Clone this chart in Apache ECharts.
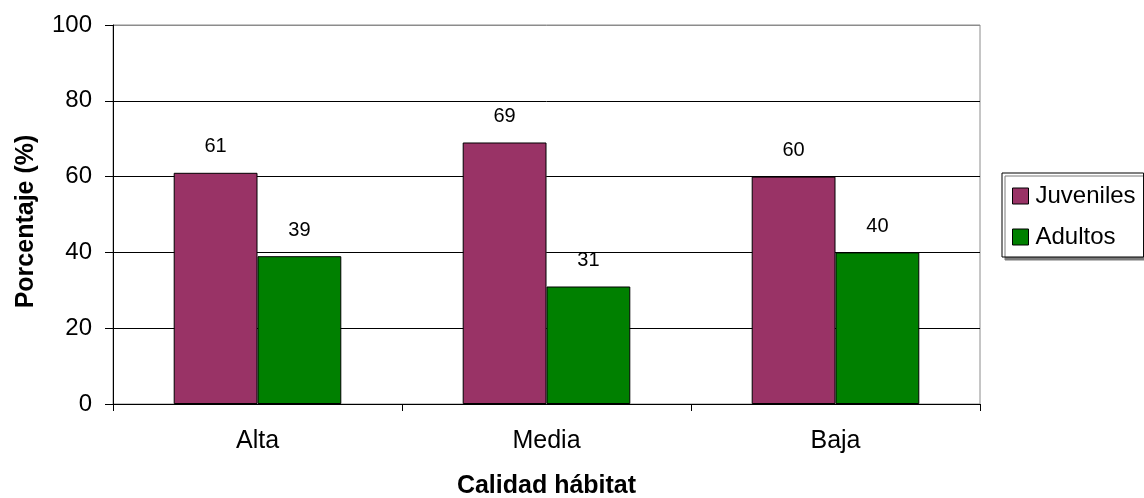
<!DOCTYPE html>
<html>
<head>
<meta charset="utf-8">
<script src="https://cdn.jsdelivr.net/npm/echarts@6/dist/echarts.min.js"></script>
<style>
html, body { margin: 0; padding: 0; background: #fff; }
#chart { width: 1144px; height: 498px; }
</style>
</head>
<body>
<div id="chart"></div>
<script>
// Habitat quality categories and age-class percentages
const categories = ['Alta', 'Media', 'Baja'];
const juveniles = [61, 69, 60];
const adultos = [39, 31, 40];
const yTicks = [0, 20, 40, 60, 80, 100];

const FONT = '"Liberation Sans", Arial, sans-serif';

const chart = echarts.init(document.getElementById('chart'), null, { renderer: 'canvas' });

const labelStyle = {
  show: true,
  position: 'top',
  distance: 16,
  color: '#000',
  fontSize: 20,
  fontFamily: FONT
};

chart.setOption({
  animation: false,
  backgroundColor: '#fff',
  grid: {
    left: 113, right: 164, top: 25, bottom: 94,
    show: true, borderColor: '#8c8c8c', borderWidth: 1,
    containLabel: false,
    outerBoundsMode: 'none'
  },
  legend: {
    orient: 'vertical',
    left: 1002, top: 173,
    padding: [11, 8, 8, 10],
    itemGap: 17,
    itemWidth: 16, itemHeight: 16,
    icon: 'rect',
    backgroundColor: '#fff',
    borderColor: '#000',
    borderWidth: 1,
    shadowColor: '#7a7a7a',
    shadowOffsetX: 3, shadowOffsetY: 3, shadowBlur: 0,
    textStyle: { fontSize: 24, color: '#000', fontFamily: FONT, padding: [0, 0, 0, 2] },
    itemStyle: { borderColor: '#000', borderWidth: 1 },
    data: ['Juveniles', 'Adultos']
  },
  xAxis: {
    type: 'category',
    data: categories,
    name: 'Calidad hábitat',
    nameLocation: 'middle',
    nameGap: 70,
    nameTextStyle: { fontSize: 25, fontWeight: 'bold', color: '#000', fontFamily: FONT },
    axisLine: { lineStyle: { color: '#000', width: 1 } },
    axisTick: { show: true, interval: 0, length: 7, lineStyle: { color: '#000' } },
    axisLabel: { fontSize: 25, color: '#000', fontFamily: FONT, margin: 25 },
    splitLine: { show: false }
  },
  yAxis: {
    type: 'value',
    min: yTicks[0],
    max: yTicks[yTicks.length - 1],
    interval: yTicks[1] - yTicks[0],
    name: 'Porcentaje (%)',
    nameLocation: 'middle',
    nameGap: 74,
    nameRotate: 90,
    nameTextStyle: { fontSize: 25, fontWeight: 'bold', color: '#000', fontFamily: FONT, padding: [0, 14, 0, 0] },
    axisLine: { show: true, lineStyle: { color: '#000', width: 1 } },
    axisTick: { show: true, length: 8, lineStyle: { color: '#000' } },
    axisLabel: { fontSize: 24, color: '#000', fontFamily: FONT, margin: 21 },
    splitLine: { show: true, lineStyle: { color: ['#000', '#000', '#000', '#000', '#000', '#8c8c8c'], width: 1 } }
  },
  series: [
    {
      name: 'Juveniles',
      type: 'bar',
      data: juveniles,
      barGap: '0%',
      barCategoryGap: '42%',
      itemStyle: { color: '#993366', borderColor: '#000', borderWidth: 1 },
      label: labelStyle
    },
    {
      name: 'Adultos',
      type: 'bar',
      data: adultos,
      itemStyle: { color: '#008000', borderColor: '#000', borderWidth: 1 },
      label: labelStyle
    }
  ]
});
</script>
</body>
</html>
